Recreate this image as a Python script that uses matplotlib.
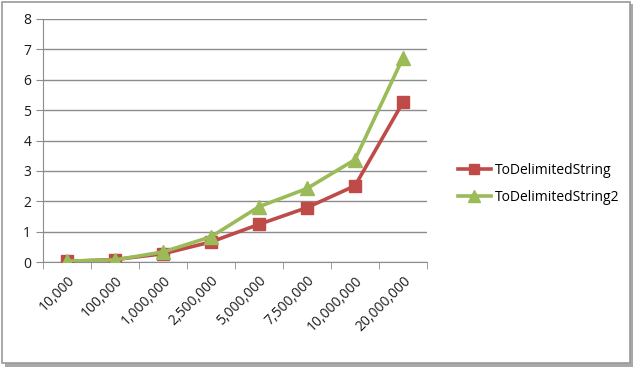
import matplotlib
matplotlib.use("Agg")
import matplotlib.pyplot as plt
from matplotlib.patches import Rectangle
import numpy as np

categories = ["10,000", "100,000", "1,000,000", "2,500,000", "5,000,000",
              "7,500,000", "10,000,000", "20,000,000"]
series1 = [0.02, 0.08, 0.27, 0.66, 1.24, 1.79, 2.51, 5.26]
series2 = [0.03, 0.07, 0.33, 0.83, 1.82, 2.42, 3.37, 6.72]
names = ["ToDelimitedString", "ToDelimitedString2"]

plt.rcParams['font.family'] = ['Open Sans', 'DejaVu Sans']
fig = plt.figure(figsize=(6.44, 3.71), dpi=100)
fig.patch.set_facecolor("white")

# chart frame with shadow
fig.patches.append(Rectangle((5/644, 1-367/371), 628/644, 363/371, transform=fig.transFigure,
                             facecolor="#a8a8a8", edgecolor="none", zorder=-10))
fig.patches.append(Rectangle((2/644, 1-363/371), 628/644, 361/371, transform=fig.transFigure,
                             facecolor="white", edgecolor="#9a9a9a", lw=1.2, zorder=-9))

ax = fig.add_axes([43/644, 1-262/371, 384/644, 243/371])
ax.set_facecolor("none")
x = np.arange(len(categories))
ax.plot(x, series1, color="#BE4B48", lw=2.6, marker="s", ms=9, label=names[0], zorder=3)
ax.plot(x, series2, color="#9BBB59", lw=2.6, marker="^", ms=10, label=names[1], zorder=4)

ax.set_xlim(-0.5, len(categories) - 0.5)
ax.set_ylim(0, 8)
ax.set_yticks(range(0, 9))
ax.yaxis.grid(True, color="#8c8c8c", lw=1)
ax.set_axisbelow(True)
for s in ["top", "right"]:
    ax.spines[s].set_visible(False)
ax.spines["left"].set_color("#8c8c8c")
ax.spines["bottom"].set_color("#8c8c8c")
ax.tick_params(axis="y", colors="#8c8c8c", length=5, labelcolor="#1a1a1a", labelsize=10)
ax.set_xticks(np.arange(-0.5, len(categories)), minor=True)
ax.set_xticks(x)
ax.set_xticklabels(categories, rotation=45, ha="right", rotation_mode="anchor", fontsize=10, color="#1a1a1a")
ax.tick_params(axis="x", which="major", length=0, pad=8)
ax.tick_params(axis="x", which="minor", length=5, color="#8c8c8c")

leg = ax.legend(loc="center left", bbox_to_anchor=(445/644, 1-184/371), bbox_transform=fig.transFigure,
                frameon=False, fontsize=10, handlelength=2.4, labelspacing=0.9, handletextpad=0.3,
                markerscale=0.8)

fig.savefig("out.png", dpi=100, facecolor="white")
